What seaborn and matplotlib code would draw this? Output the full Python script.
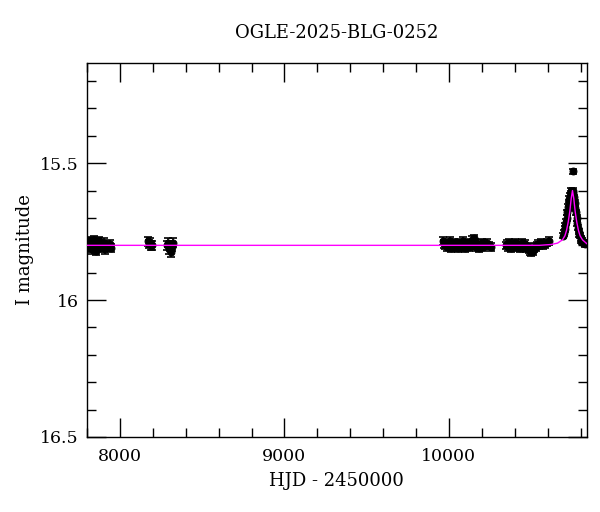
import numpy as np
import pandas as pd
import seaborn as sns
import matplotlib.pyplot as plt
from matplotlib.ticker import MultipleLocator, FixedLocator

# OGLE photometry (HJD - 2450000, I mag, error)
hjd = [
    # season 2017
    7806, 7811, 7815, 7819, 7823, 7827, 7830, 7834, 7838, 7842, 7846, 7850,
    7855, 7859, 7864, 7868, 7873, 7878, 7884, 7890, 7897, 7904, 7912, 7921,
    7930, 7940, 7948,
    # season 2018
    8168, 8176, 8183, 8190, 8197,
    8285, 8292, 8298, 8304, 8310, 8316, 8322,
    # season 2023
    9965, 9972, 9978, 9984, 9990, 9996, 10002, 10008, 10014, 10020, 10026,
    10032, 10038, 10044, 10050, 10056, 10062, 10068, 10074, 10080, 10086,
    10092, 10098, 10104, 10110, 10116, 10122, 10128, 10134, 10140, 10146,
    10152, 10158, 10164, 10170, 10176, 10182, 10190, 10198, 10206, 10214,
    10222, 10232, 10242, 10255,
    # season 2024
    10345, 10352, 10359, 10366, 10373, 10380, 10387, 10394, 10401, 10408,
    10415, 10422, 10429, 10436, 10443, 10450, 10457, 10464, 10471, 10478,
    10485, 10492, 10499, 10506, 10513, 10520, 10527, 10534, 10542, 10550,
    10560, 10570, 10582, 10595, 10608,
    # season 2025, the event
    10692, 10698, 10703, 10708, 10712, 10716, 10720, 10724, 10728, 10732,
    10736, 10740, 10744, 10748, 10752, 10754, 10756, 10760, 10764, 10768,
    10772, 10776, 10780, 10784, 10788, 10792, 10796, 10800, 10805, 10810,
    10816, 10822, 10828, 10834,
]
mag = [
    15.795, 15.810, 15.790, 15.805, 15.785, 15.800, 15.815, 15.790, 15.800,
    15.780, 15.810, 15.795, 15.820, 15.800, 15.790, 15.805, 15.785, 15.800,
    15.810, 15.795, 15.800, 15.790, 15.815, 15.800, 15.805, 15.795, 15.810,
    15.785, 15.795, 15.790, 15.800, 15.800,
    15.800, 15.790, 15.815, 15.800, 15.825, 15.805, 15.790,
    15.785, 15.795, 15.800, 15.790, 15.805, 15.795, 15.800, 15.785, 15.810,
    15.795, 15.800, 15.790, 15.805, 15.800, 15.795, 15.810, 15.790, 15.800,
    15.805, 15.795, 15.785, 15.800, 15.810, 15.795, 15.800, 15.790, 15.805,
    15.800, 15.795, 15.780, 15.800, 15.775, 15.790, 15.805, 15.800, 15.795,
    15.810, 15.800, 15.790, 15.805, 15.795, 15.800, 15.790, 15.800, 15.805,
    15.800, 15.795, 15.805, 15.790, 15.800, 15.810, 15.795, 15.800, 15.790,
    15.805, 15.800, 15.795, 15.810, 15.800, 15.790, 15.805, 15.800, 15.795,
    15.810, 15.805, 15.815, 15.820, 15.825, 15.815, 15.820, 15.810, 15.805,
    15.800, 15.795, 15.800, 15.790, 15.800, 15.795, 15.790, 15.785,
    15.765, 15.755, 15.740, 15.730, 15.715, 15.700, 15.680, 15.660, 15.645,
    15.630, 15.620, 15.610, 15.600, 15.605, 15.600, 15.530, 15.610, 15.625,
    15.645, 15.665, 15.680, 15.700, 15.720, 15.735, 15.750, 15.760, 15.765,
    15.775, 15.780, 15.785, 15.790, 15.790, 15.795, 15.790,
]
err = [0.015] * 27 + [0.016] * 12 + [0.014] * 45 + [0.014] * 35 + [0.010] * 34

# model light curve
model_hjd = [7800, 10550, 10620, 10660, 10690, 10705, 10715, 10725, 10735,
             10743, 10751, 10759, 10767, 10777, 10787, 10797, 10812, 10840]
model_mag = [15.800, 15.800, 15.797, 15.792, 15.780, 15.765, 15.745, 15.715,
             15.675, 15.630, 15.600, 15.630, 15.675, 15.715, 15.745, 15.765,
             15.780, 15.795]

df = pd.DataFrame({'HJD': hjd, 'I': mag, 'err': err})
model = pd.DataFrame({'HJD': model_hjd, 'I': model_mag})

sns.set_theme(style='ticks')
plt.rcParams['font.family'] = ['DejaVu Serif']
plt.rcParams['text.color'] = 'black'
plt.rcParams['axes.labelcolor'] = 'black'

fig = plt.figure(figsize=(6, 5.12), dpi=100)
ax = fig.add_axes([0.145, 0.1465, 0.833, 0.731])

ax.errorbar(df['HJD'], df['I'], yerr=df['err'], fmt='none', ecolor='black',
            elinewidth=1.2, capsize=3, capthick=1.2, zorder=2)
sns.scatterplot(data=df, x='HJD', y='I', ax=ax, color='black', s=24,
                edgecolor='black', linewidth=0.8, zorder=3)
sns.lineplot(data=model, x='HJD', y='I', ax=ax, color='#ff00ff', linewidth=1,
             zorder=4)

ax.set_xlim(7800, 10838)
ax.set_ylim(16.5, 15.133)

ax.xaxis.set_major_locator(FixedLocator([8000, 9000, 10000]))
ax.xaxis.set_minor_locator(MultipleLocator(200))
ax.yaxis.set_major_locator(FixedLocator([15.5, 16, 16.5]))
ax.set_yticklabels(['15.5', '16', '16.5'])
ax.yaxis.set_minor_locator(MultipleLocator(0.1))

ax.tick_params(which='both', direction='in', top=True, right=True,
               colors='black', width=1)
ax.tick_params(which='major', length=14)
ax.tick_params(which='minor', length=6.5)
ax.tick_params(axis='x', which='major', pad=8, labelsize=12.5)
ax.tick_params(axis='y', which='major', pad=6, labelsize=12.5)
for side in ax.spines.values():
    side.set_linewidth(1)
    side.set_color('black')

ax.set_xlabel('HJD - 2450000', fontsize=13, labelpad=5)
ax.set_ylabel('I magnitude', fontsize=13, labelpad=4)
ax.set_title('OGLE-2025-BLG-0252', fontsize=13, pad=18, color='black')

fig.savefig('out.png', dpi=100)
